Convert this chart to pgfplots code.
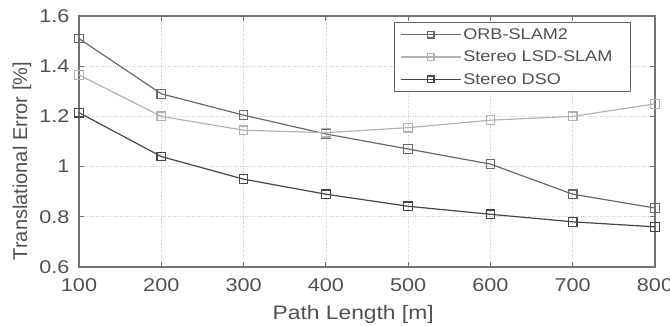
\documentclass[border=0pt]{standalone}
\usepackage{pgfplots}
\pgfplotsset{compat=1.18}
\usepackage{fontspec}
\setmainfont{Liberation Sans}[FakeStretch=1.17]
\newfontfamily\ylabfont{Liberation Sans}
\definecolor{orbc}{RGB}{105,105,105}
\definecolor{lsdc}{RGB}{178,178,178}
\definecolor{dsoc}{RGB}{70,70,70}
\definecolor{txtc}{RGB}{80,80,80}
\begin{document}
\begin{tikzpicture}
\path[use as bounding box] (-79pt,-59pt) rectangle (591pt,267pt);
\begin{axis}[
  at={(0pt,0pt)}, anchor=south west,
  scale only axis,
  width=576pt, height=251pt,
  xmin=100, xmax=800, ymin=0.6, ymax=1.6,
  xtick={100,200,...,800},
  ytick={0.6,0.8,1,1.2,1.4,1.6},
  yticklabels={0.6,0.8,1,1.2,1.4,1.6},
  /pgf/number format/assume math mode=true,
  tick label style={font=\fontsize{18.5}{20}\selectfont, color=txtc},
  xticklabel style={yshift=-8pt},
  yticklabel style={xshift=-6pt},
  xlabel={Path Length [m]},
  ylabel={Translational Error [\%]},
  xlabel style={font=\fontsize{19.5}{21}\selectfont, color=txtc, at={(axis description cs:0.476,-0.188)}, anchor=center},
  ylabel style={font=\ylabfont\fontsize{20}{22}\selectfont, color=txtc, at={(axis description cs:-0.099,0.422)}, anchor=center},
  grid=major,
  grid style={dotted, black!20, line width=0.6pt},
  axis line style={black!55, line width=1.1pt},
  tick style={black!55, line width=0.8pt},
  major tick length=5pt,
  tick align=inside,
  legend style={at={(axis description cs:1,1)}, anchor=north east, xshift=-24pt, yshift=-6pt,
    font=\fontsize{15.5}{17}\selectfont, draw=black!60, line width=1.1pt, inner xsep=6pt, inner ysep=4pt, row sep=6pt, text=txtc},
  legend cell align=left,
  legend image code/.code={\draw[mark repeat=2,mark phase=2,mark size=3.3pt] plot coordinates {(0pt,0pt) (30pt,0pt) (60pt,0pt)};},
  every axis plot/.append style={line width=1.2pt, mark=square, mark size=4.3pt, mark options={line width=1.2pt}},
]
\addplot[orbc] coordinates {(100,1.51) (200,1.29) (300,1.205) (400,1.13) (500,1.07) (600,1.01) (700,0.89) (800,0.835)};
\addlegendentry{ORB-SLAM2}
\addplot[lsdc] coordinates {(100,1.365) (200,1.2) (300,1.145) (400,1.135) (500,1.155) (600,1.185) (700,1.2) (800,1.25)};
\addlegendentry{Stereo LSD-SLAM\rule{10pt}{0pt}}
\addplot[dsoc] coordinates {(100,1.215) (200,1.04) (300,0.95) (400,0.89) (500,0.842) (600,0.81) (700,0.78) (800,0.76)};
\addlegendentry{Stereo DSO}
\end{axis}
\end{tikzpicture}
\end{document}
